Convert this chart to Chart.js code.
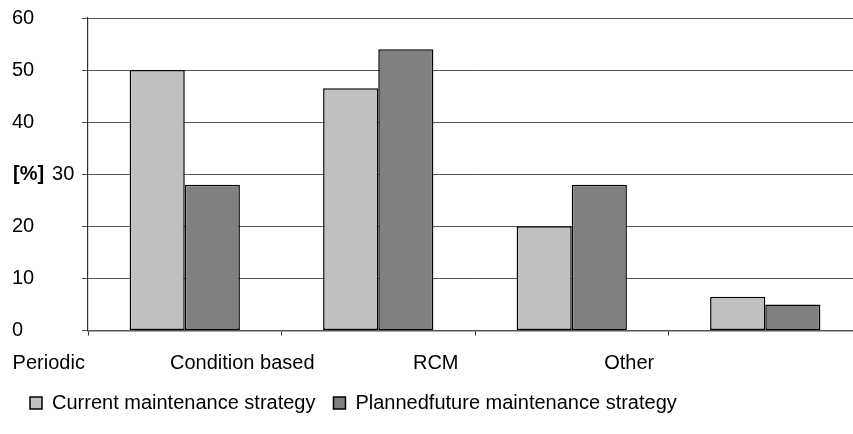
<!DOCTYPE html>
<html>
<head>
<meta charset="utf-8">
<script src="https://cdn.jsdelivr.net/npm/chart.js@4/dist/chart.umd.min.js"></script>
<style>
  html, body { margin: 0; padding: 0; background: #fff; overflow: hidden; }
  #wrap { width: 853px; height: 434px; overflow: hidden; position: relative; }
  canvas { display: block; }
</style>
</head>
<body>
<div id="wrap"><canvas id="chart" width="870" height="434"></canvas></div>
<script>
// Share of maintenance strategies, in percent
const categories = ['Periodic', 'Condition based', 'RCM', 'Other'];
const currentStrategy = [50, 46.5, 20, 6.5];
const plannedStrategy = [28, 54, 28, 5];
const seriesNames = ['Current maintenance strategy', 'Plannedfuture maintenance strategy'];
const yTicks = [0, 10, 20, 30, 40, 50, 60];
const unitLabel = '[%]';
const unitTick = 30;

const FONT = '"Liberation Sans", Arial, Helvetica, sans-serif';

// Writes the bold unit in front of its tick value on the y axis
const unitPlugin = {
  id: 'unitOnAxis',
  afterDraw(chart) {
    const ys = chart.scales.y;
    const py = ys.getPixelForValue(unitTick);
    const ctx = chart.ctx;
    ctx.save();
    ctx.fillStyle = '#000';
    ctx.textAlign = 'left';
    ctx.textBaseline = 'middle';
    ctx.font = 'bold 20px ' + FONT;
    const x0 = ys.left + 1;
    ctx.fillText(unitLabel, x0, py);
    const w = ctx.measureText(unitLabel).width;
    ctx.font = '20px ' + FONT;
    ctx.fillText(String(unitTick), x0 + w + 8, py);
    ctx.restore();
  }
};

new Chart(document.getElementById('chart'), {
  type: 'bar',
  data: {
    labels: categories,
    datasets: [
      {
        label: seriesNames[0],
        data: currentStrategy,
        backgroundColor: '#c0c0c0',
        borderColor: '#000',
        borderWidth: 1.5,
        borderSkipped: false
      },
      {
        label: seriesNames[1],
        data: plannedStrategy,
        backgroundColor: '#808080',
        borderColor: '#000',
        borderWidth: 1.5,
        borderSkipped: false
      }
    ]
  },
  options: {
    responsive: false,
    animation: false,
    events: [],
    layout: { padding: { left: 12, right: 8, top: 18, bottom: 11 } },
    datasets: { bar: { categoryPercentage: 0.57, barPercentage: 1.0 } },
    plugins: {
      tooltip: { enabled: false },
      legend: {
        position: 'bottom',
        align: 'start',
        labels: {
          color: '#000',
          font: { family: FONT, size: 20 },
          boxWidth: 12,
          boxHeight: 12,
          padding: 18
        }
      }
    },
    scales: {
      x: {
        offset: true,
        grid: {
          display: true,
          offset: true,
          drawOnChartArea: false,
          drawTicks: true,
          tickLength: 5,
          color: '#333'
        },
        border: { display: true, color: '#555', width: 1.5 },
        ticks: {
          color: '#000',
          font: { family: FONT, size: 20 },
          autoSkip: false,
          maxRotation: 0,
          minRotation: 0,
          padding: 16,
          labelOffset: -136
        },
        afterFit(scale) { scale.height = 44.5; }
      },
      y: {
        min: 0,
        max: 60,
        afterBuildTicks(scale) { scale.ticks = yTicks.map(v => ({ value: v })); },
        grid: {
          color: '#555',
          lineWidth: 1,
          drawTicks: true,
          tickLength: 6
        },
        border: { display: true, color: '#333', width: 1.2 },
        ticks: {
          crossAlign: 'far',
          color: (c) => (c.tick && c.tick.value === unitTick) ? 'rgba(0,0,0,0)' : '#000',
          font: { family: FONT, size: 20 },
          callback: (v) => v
        },
        afterFit(scale) { scale.width = 76; }
      }
    }
  },
  plugins: [unitPlugin]
});
</script>
</body>
</html>
